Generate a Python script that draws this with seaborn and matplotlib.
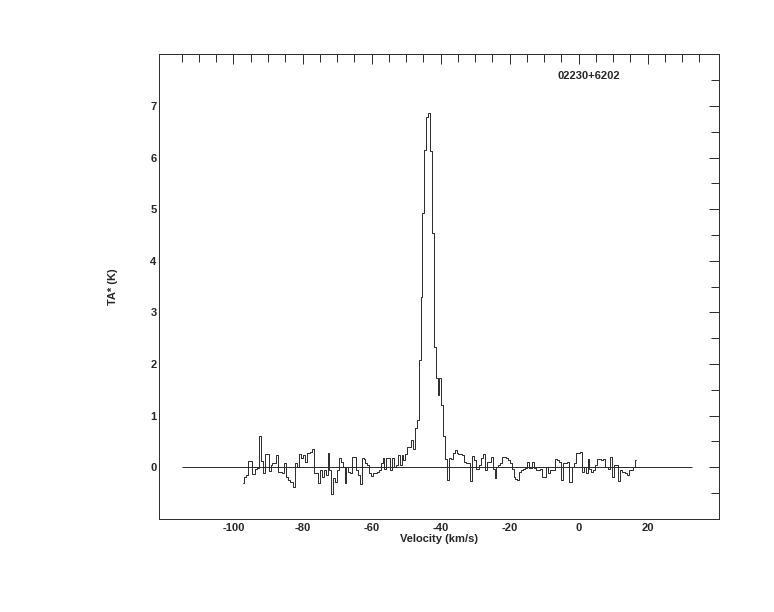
import numpy as np
import pandas as pd
import matplotlib
matplotlib.use("Agg")
import matplotlib.pyplot as plt
import seaborn as sns
from matplotlib.ticker import FixedLocator

# ---------------- data ----------------
source_name = "02230+6202"
x_label = "Velocity (km/s)"
y_label = "TA* (K)"

channel_start = -97.225   # centre of first channel (km/s)
channel_width = 0.55      # km/s

ta_values = [
    -0.30, -0.19, -0.15, 0.11, 0.11, -0.14, -0.14, -0.03, -0.01, 0.60,
    0.12, -0.11, 0.25, 0.25, -0.08, 0.04, 0.08, 0.08, 0.23, -0.09,
    -0.09, -0.12, 0.07, -0.19, -0.25, -0.28, -0.28, -0.39, 0.07, 0.00,
    0.26, 0.17, 0.24, 0.10, 0.28, 0.28, 0.30, 0.36, -0.12, -0.12,
    -0.30, -0.05, -0.19, -0.05, -0.15, 0.28, -0.05, -0.52, -0.22, -0.28,
    -0.05, 0.17, 0.10, 0.00, -0.30, 0.00, -0.09, -0.12, 0.20, 0.20,
    -0.05, -0.15, -0.32, 0.17, 0.15, 0.07, 0.04, -0.11, -0.17, -0.12,
    -0.11, -0.09, -0.06, 0.08, 0.17, -0.03, 0.17, 0.17, -0.05, 0.17,
    0.00, 0.04, 0.23, 0.04, 0.23, 0.13, 0.26, 0.39, 0.39, 0.52,
    0.36, 0.75, 0.91, 2.07, 3.30, 4.92, 6.15, 6.79, 6.86, 6.12,
    4.53, 2.33, 1.72, 1.40, 1.72, 1.20, 0.60, 0.15, -0.25, 0.17,
    0.15, 0.27, 0.34, 0.27, 0.25, 0.25, 0.23, 0.10, 0.07, 0.07,
    -0.27, 0.21, 0.14, -0.03, -0.03, 0.05, 0.17, 0.25, -0.06, 0.10,
    0.10, 0.19, -0.03, -0.22, 0.00, 0.04, 0.07, 0.19, 0.19, 0.17,
    0.14, 0.07, -0.03, -0.19, -0.24, -0.25, -0.09, -0.06, -0.03, -0.02,
    0.10, -0.01, -0.01, 0.10, -0.02, -0.05, -0.06, -0.03, -0.19, -0.19,
    0.00, -0.12, -0.05, -0.05, -0.05, 0.15, 0.13, 0.10, -0.25, 0.07,
    0.07, 0.10, -0.28, -0.28, 0.00, 0.07, 0.27, 0.27, 0.30, -0.09,
    0.00, -0.11, 0.15, -0.03, -0.09, -0.05, 0.04, 0.15, 0.15, 0.14,
    0.15, 0.00, 0.00, -0.03, 0.20, -0.19, 0.05, 0.05, -0.27, -0.06,
    -0.09, -0.09, -0.11, -0.15, -0.06, -0.06, 0.00, 0.13,
]
velocity = channel_start + channel_width * np.arange(len(ta_values))

baseline_span = (-115.0, 33.0)
x_limits = (-121.5, 40.7)
y_limits = (-1.0, 8.0)
x_major_ticks = [-100, -80, -60, -40, -20, 0, 20]
x_minor_ticks = list(range(-115, 40, 5))
y_major_ticks = [0, 1, 2, 3, 4, 5, 6, 7]
y_minor_ticks = [-0.5, 0.5, 1.5, 2.5, 3.5, 4.5, 5.5, 6.5, 7.5]

# ---------------- style ----------------
sns.set_style("white")
plt.rcParams["font.family"] = ["Liberation Sans", "DejaVu Sans"]
plt.rcParams["font.weight"] = "bold"
plt.rcParams["axes.unicode_minus"] = False

fig = plt.figure(figsize=(7.74, 6.12), dpi=100)
ax = fig.add_axes([159.3 / 774, 1 - 518.7 / 612, (719 - 159.3) / 774, (518.7 - 54.3) / 612])

df = pd.DataFrame({"velocity": velocity, "ta": ta_values})
line_color = "#2a2a2a"
sns.lineplot(data=df, x="velocity", y="ta", ax=ax, drawstyle="steps-mid",
             color=line_color, lw=0.7, estimator=None, sort=False)
ax.hlines(0, baseline_span[0], baseline_span[1], color=line_color, lw=0.7)

ax.set_xlim(*x_limits)
ax.set_ylim(*y_limits)
ax.xaxis.set_major_locator(FixedLocator(x_major_ticks))
ax.xaxis.set_minor_locator(FixedLocator(x_minor_ticks))
ax.yaxis.set_major_locator(FixedLocator(y_major_ticks))
ax.yaxis.set_minor_locator(FixedLocator(y_minor_ticks))

ax.tick_params(which="both", direction="in", top=True, right=True,
               color=line_color, width=0.7, labelsize=8)
ax.tick_params(which="major", length=7.5)
ax.tick_params(which="minor", length=5.8)
ax.tick_params(axis="x", pad=3)
ax.tick_params(axis="y", pad=2)

for s in ax.spines.values():
    s.set_color(line_color)
    s.set_linewidth(0.7)

ax.set_xlabel(x_label, fontsize=8, fontweight="bold", labelpad=1)
ax.set_ylabel(y_label, fontsize=8, fontweight="bold", labelpad=23)
ax.text(0.7106, 0.953, source_name, transform=ax.transAxes, ha="left", va="center",
        fontsize=8, fontweight="bold")

fig.savefig("out.png", dpi=100)
